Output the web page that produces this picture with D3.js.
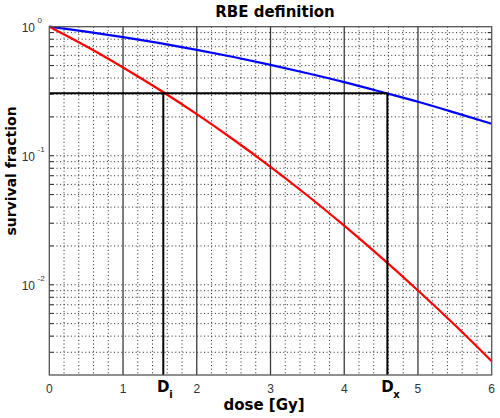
<!DOCTYPE html>
<html>
<head>
<meta charset="utf-8">
<script src="https://cdn.jsdelivr.net/npm/d3@7"></script>
<style>
  body { margin: 0; background: #fff; }
  svg { display: block; }
</style>
</head>
<body>
<div id="chart"></div>
<script>
// dose points (Gy) and survival
const doses = [0, 0.5, 1, 1.5, 2, 2.5, 3, 3.5, 4, 4.5, 5, 5.5, 6];
const redSurvival = [1, 0.705, 0.483, 0.323, 0.210, 0.133, 0.0820, 0.0492, 0.0287, 0.0163, 0.00904, 0.00488, 0.00256];
const blueSurvival = [1, 0.916, 0.831, 0.746, 0.662, 0.582, 0.506, 0.436, 0.372, 0.313, 0.262, 0.216, 0.177];

// iso-effect level and the two doses reaching it
const isoSurvival = 0.305;
const doseLabels = [{ name: "D", sub: "i", dose: 1.546 }, { name: "D", sub: "x", dose: 4.585 }];

const xTickLabels = [0, 1, 2, 3, 4, 5, 6];
const yDecadeExponents = [0, -1, -2];
const yDomain = [0.002, 1];
const xDomain = [0, 6];

(function () {
  const W = 500, H = 418;
  const margin = { top: 26.7, right: 8.3, bottom: 43, left: 49.3 };
  const left = margin.left, right = W - margin.right;
  const top = margin.top, bottom = H - margin.bottom;

  const svg = d3.select("#chart").append("svg")
    .attr("width", W)
    .attr("height", H);

  const x = d3.scaleLinear().domain(xDomain).range([left, right]);
  const y = d3.scaleLog().domain(yDomain).range([bottom, top]);

  // minor grid (dotted)
  const xMinor = d3.range(0, 30).map(i => i * 0.2).filter(v => Math.abs(v - Math.round(v)) > 1e-6);
  const yMinor = y.ticks().filter(v => v > yDomain[0] && v < yDomain[1]);

  const grid = svg.append("g")
    .attr("stroke", "#222")
    .attr("stroke-width", 1)
    .attr("stroke-dasharray", "1,2.6");

  grid.selectAll(".vx").data(xMinor).join("line")
    .attr("x1", d => x(d)).attr("x2", d => x(d))
    .attr("y1", top).attr("y2", bottom);

  grid.selectAll(".hy").data(yMinor).join("line")
    .attr("x1", left).attr("x2", right)
    .attr("y1", d => y(d)).attr("y2", d => y(d));

  // major vertical lines at integer doses
  svg.append("g").selectAll("line")
    .data(xTickLabels.filter(d => d > 0 && d < 6))
    .join("line")
    .attr("x1", d => x(d)).attr("x2", d => x(d))
    .attr("y1", top).attr("y2", bottom)
    .attr("stroke", "#3a3a3a")
    .attr("stroke-width", 1.3);

  // small inward ticks on left and right border
  const ticks = svg.append("g").attr("stroke", "#222").attr("stroke-width", 1);
  ticks.selectAll(".tl").data(yMinor).join("line")
    .attr("x1", left).attr("x2", left + 4)
    .attr("y1", d => y(d)).attr("y2", d => y(d));
  ticks.selectAll(".tr").data(yMinor).join("line")
    .attr("x1", right - 4).attr("x2", right)
    .attr("y1", d => y(d)).attr("y2", d => y(d));

  // curves
  const line = d3.line()
    .x(d => x(d[0]))
    .y(d => y(d[1]))
    .curve(d3.curveMonotoneX);

  svg.append("path")
    .datum(doses.map((d, i) => [d, blueSurvival[i]]))
    .attr("fill", "none")
    .attr("stroke", "#0000ff")
    .attr("stroke-width", 2.2)
    .attr("d", line);

  svg.append("path")
    .datum(doses.map((d, i) => [d, redSurvival[i]]))
    .attr("fill", "none")
    .attr("stroke", "#ff0000")
    .attr("stroke-width", 2.2)
    .attr("d", line);

  // iso-effect construction lines
  const maxDose = d3.max(doseLabels, d => d.dose);
  svg.append("line")
    .attr("x1", x(0)).attr("x2", x(maxDose))
    .attr("y1", y(isoSurvival)).attr("y2", y(isoSurvival))
    .attr("stroke", "#000").attr("stroke-width", 2);

  svg.append("g").selectAll("line")
    .data(doseLabels)
    .join("line")
    .attr("x1", d => x(d.dose)).attr("x2", d => x(d.dose))
    .attr("y1", y(isoSurvival)).attr("y2", bottom)
    .attr("stroke", "#000").attr("stroke-width", 2);

  // frame
  svg.append("rect")
    .attr("x", left).attr("y", top)
    .attr("width", right - left).attr("height", bottom - top)
    .attr("fill", "none")
    .attr("stroke", "#555")
    .attr("stroke-width", 1.3);

  // x tick labels
  svg.append("g").selectAll("text")
    .data(xTickLabels)
    .join("text")
    .attr("x", d => x(d))
    .attr("y", bottom + 18)
    .attr("text-anchor", "middle")
    .style("font-family", "'Liberation Sans', Arial, sans-serif")
    .style("font-size", "12px")
    .style("fill", "#333")
    .text(d => d);

  // D_i / D_x labels
  const dl = svg.append("g").selectAll("g")
    .data(doseLabels)
    .join("g")
    .attr("transform", d => `translate(${x(d.dose)},${bottom + 17})`);
  dl.append("text")
    .attr("text-anchor", "middle")
    .style("font-family", "'DejaVu Sans', sans-serif")
    .style("font-weight", "bold")
    .style("font-size", "15px")
    .style("fill", "#000")
    .text(d => d.name);
  dl.append("text")
    .attr("x", 6)
    .attr("y", 6)
    .style("font-family", "'DejaVu Sans', sans-serif")
    .style("font-weight", "bold")
    .style("font-size", "10px")
    .style("fill", "#000")
    .text(d => d.sub);

  // y tick labels (10^n)
  const yl = svg.append("g").selectAll("g")
    .data(yDecadeExponents)
    .join("g")
    .attr("transform", d => `translate(35,${y(Math.pow(10, d)) + 5})`);
  yl.append("text")
    .attr("text-anchor", "end")
    .style("font-family", "'Liberation Sans', Arial, sans-serif")
    .style("font-size", "12px")
    .style("fill", "#333")
    .text("10");
  yl.append("text")
    .attr("x", 2.5)
    .attr("y", -9)
    .style("font-family", "'Liberation Sans', Arial, sans-serif")
    .style("font-size", "8px")
    .style("fill", "#333")
    .text(d => d);

  // title and axis titles
  svg.append("text")
    .attr("x", 275)
    .attr("y", 17)
    .attr("text-anchor", "middle")
    .style("font-family", "'DejaVu Sans', sans-serif")
    .style("font-weight", "bold")
    .style("font-size", "15px")
    .text("RBE definition");

  svg.append("text")
    .attr("x", 264)
    .attr("y", 410)
    .attr("text-anchor", "middle")
    .style("font-family", "'DejaVu Sans', sans-serif")
    .style("font-weight", "bold")
    .style("font-size", "15px")
    .text("dose [Gy]");

  svg.append("text")
    .attr("transform", "translate(16,171) rotate(-90)")
    .attr("text-anchor", "middle")
    .style("font-family", "'DejaVu Sans', sans-serif")
    .style("font-weight", "bold")
    .style("font-size", "14px")
    .text("survival fraction");
})();
</script>
</body>
</html>
